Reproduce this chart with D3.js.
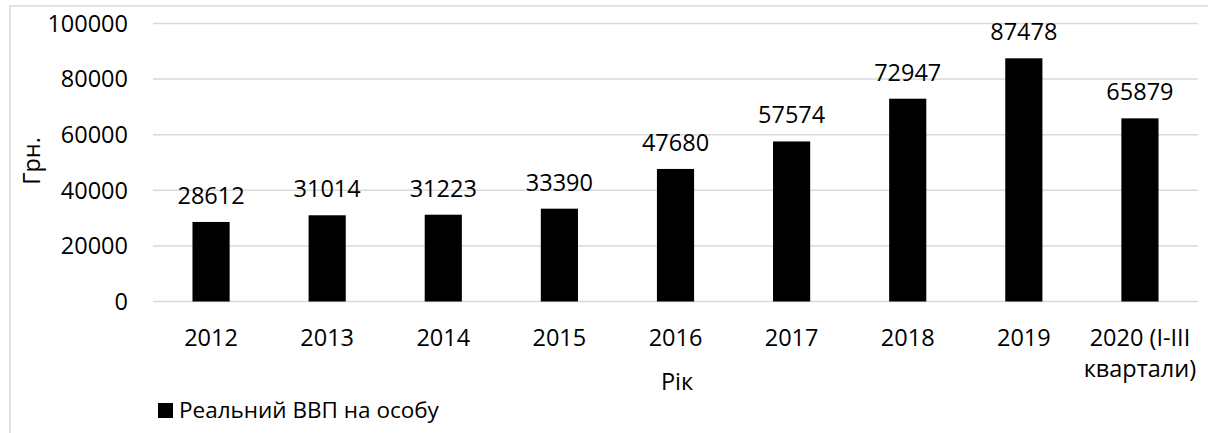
<!DOCTYPE html>
<html><head><meta charset="utf-8">
<script src="https://cdn.jsdelivr.net/npm/d3@7"></script>
<style>body{margin:0;background:#fff}svg{display:block}text{font-family:"Open Sans",sans-serif;fill:#000}</style>
</head><body><svg id="c" width="1208" height="433"></svg>
<script>
const categories = ["2012","2013","2014","2015","2016","2017","2018","2019","2020 (I-III|квартали)"];
const values = [28612,31014,31223,33390,47680,57574,72947,87478,65879];
const yTicks = [0,20000,40000,60000,80000,100000];
const seriesName = "Реальний ВВП на особу";
const xTitle = "Рік", yTitle = "Грн.";

const svg = d3.select("#c");
const m = {l:153, r:1198};
const x = d3.scaleBand().domain(categories).range([m.l, m.r]).paddingInner(0.68).paddingOuter(0.34);
const y = d3.scaleLinear().domain([0,100000]).range([301.5, 23.5]);
const fs = 23.5;

svg.append("rect").attr("x",10).attr("y",6).attr("width",1200).attr("height",440)
  .attr("fill","#fff").attr("stroke","#d9d9d9").attr("stroke-width",1.5);

svg.append("g").selectAll("line").data(yTicks).join("line")
  .attr("x1",m.l).attr("x2",m.r).attr("y1",d=>y(d)).attr("y2",d=>y(d))
  .attr("stroke","#d9d9d9").attr("stroke-width",1.5);

svg.append("g").selectAll("text").data(yTicks).join("text")
  .attr("x",128).attr("y",d=>y(d)).attr("dy","0.35em").attr("text-anchor","end")
  .attr("font-size",fs).text(d=>d);

svg.append("g").selectAll("rect").data(values).join("rect")
  .attr("x",(d,i)=>x(categories[i])).attr("width",x.bandwidth())
  .attr("y",d=>y(d)).attr("height",d=>y(0)-y(d)).attr("fill","#000");

svg.append("g").selectAll("text").data(values).join("text")
  .attr("x",(d,i)=>x(categories[i])+x.bandwidth()/2).attr("y",d=>y(d)-18)
  .attr("text-anchor","middle").attr("font-size",fs).text(d=>d);

const xl = svg.append("g").selectAll("text").data(categories).join("text")
  .attr("x",d=>x(d)+x.bandwidth()/2).attr("y",346).attr("text-anchor","middle").attr("font-size",fs);
xl.each(function(d){
  const parts = d.split("|");
  const t = d3.select(this);
  parts.forEach((p,i)=>t.append("tspan").attr("x",x(d)+x.bandwidth()/2).attr("dy",i?31:0).text(p));
});

svg.append("text").attr("x",677).attr("y",390).attr("text-anchor","middle").attr("font-size",fs).text(xTitle);
svg.append("text").attr("transform","translate(40,161) rotate(-90)").attr("text-anchor","middle").attr("font-size",fs).text(yTitle);

svg.append("rect").attr("x",158).attr("y",403).attr("width",15).attr("height",15).attr("fill","#000");
svg.append("text").attr("x",179).attr("y",410.5).attr("dy","0.35em").attr("font-size",22.5).text(seriesName);
</script></body></html>
